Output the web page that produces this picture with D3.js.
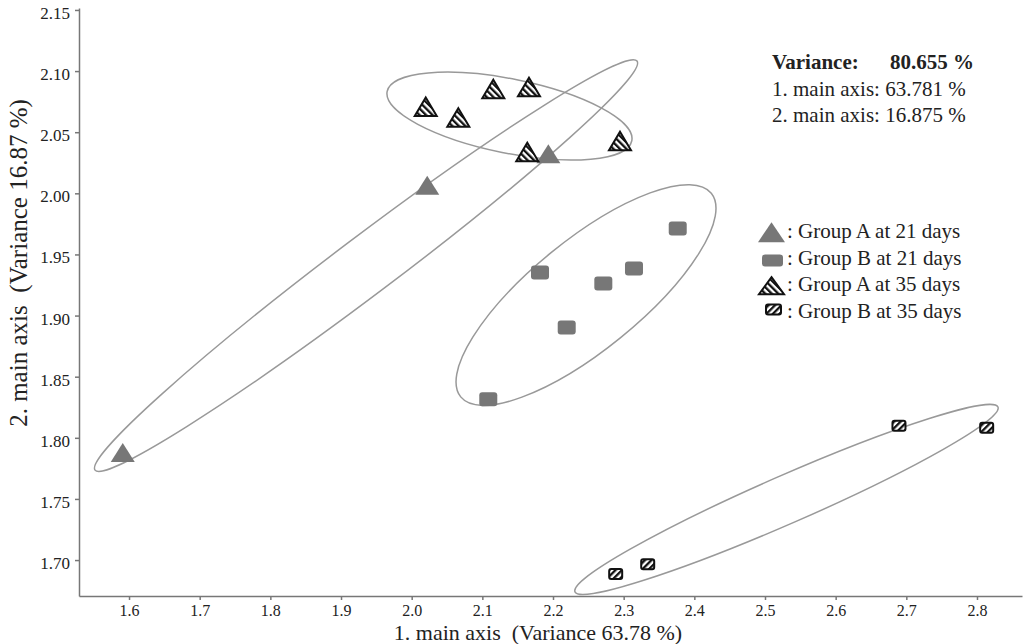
<!DOCTYPE html>
<html>
<head>
<meta charset="utf-8">
<script src="https://cdn.jsdelivr.net/npm/d3@7"></script>
<style>
	body { margin: 0; background: #fff; }
	text { font-family: "Liberation Serif", "DejaVu Serif", serif; fill: #222; }
</style>
</head>
<body>
<div id="chart"></div>
<script>
// score plot, two main axes
var groupNames = ["Group A at 21 days", "Group B at 21 days", "Group A at 35 days", "Group B at 35 days"];

var groupA21 = [[1.5911, 1.7854], [2.022, 2.004], [2.1934, 2.0297]];
var groupB21 = [[2.1816, 1.9353], [2.2712, 1.9263], [2.3146, 1.9386], [2.2194, 1.8903], [2.3765, 1.9713], [2.1084, 1.8315]];
var groupA35 = [[2.0199, 2.0683], [2.0660, 2.0595], [2.1155, 2.0828], [2.1660, 2.0845], [2.1636, 2.0313], [2.2948, 2.0403]];
var groupB35 = [[2.2887, 1.6885], [2.3340, 1.6965], [2.6896, 1.8099], [2.8137, 1.8082]];

// ellipse per group: centre, end of the long axis, short/long ratio
var ellCentre = [[1.9354, 1.9409], [2.2467, 1.9168], [2.1384, 2.0632], [2.5304, 1.7496]];
var ellTip = [[2.3189, 2.1082], [2.4240, 2.0001], [2.3115, 2.0430], [2.8297, 1.8252]];
var ellRatio = [0.0854, 0.34, 0.297, 0.104];

var xTicks = [1.6, 1.7, 1.8, 1.9, 2.0, 2.1, 2.2, 2.3, 2.4, 2.5, 2.6, 2.7, 2.8];
var yTicks = [1.70, 1.75, 1.80, 1.85, 1.90, 1.95, 2.00, 2.05, 2.10, 2.15];

var varianceLines = ["1. main axis: 63.781 %", "2. main axis: 16.875 %"];

var W = 1024, H = 644;
var mLeft = 79, mRight = 1022, mTop = 8, mBottom = 596;

var svg = d3.select("#chart").append("svg")
	.attr("width", W)
	.attr("height", H);

var x = d3.scaleLinear().domain([1.5292, 2.8637]).range([mLeft, mRight]);
var y = d3.scaleLinear().domain([1.6706, 2.1516]).range([mBottom, mTop]);

var defs = svg.append("defs");
function hatch(id, angle) {
	var p = defs.append("pattern")
		.attr("id", id)
		.attr("patternUnits", "userSpaceOnUse")
		.attr("width", 4.6)
		.attr("height", 4.6)
		.attr("patternTransform", "rotate(" + angle + ")");
	p.append("rect").attr("width", 4.6).attr("height", 4.6).attr("fill", "#fff");
	p.append("rect").attr("width", 2.3).attr("height", 4.6).attr("fill", "#111");
}
hatch("hatchT", -45);
hatch("hatchS", 45);

function triPath(w, h) {
	return "M0," + (-2 * h / 3) + "L" + (w / 2) + "," + (h / 3) + "L" + (-w / 2) + "," + (h / 3) + "Z";
}

// axes
var xAxis = svg.append("g")
	.attr("transform", "translate(0," + mBottom + ")")
	.call(d3.axisBottom(x).tickValues(xTicks).tickFormat(d3.format(".1f")).tickSize(4).tickSizeOuter(0).tickPadding(5));
var yAxis = svg.append("g")
	.attr("transform", "translate(" + mLeft + ",0)")
	.call(d3.axisLeft(y).tickValues(yTicks).tickFormat(d3.format(".2f")).tickSize(4).tickSizeOuter(0).tickPadding(5));
svg.selectAll(".domain, .tick line").attr("stroke", "#777").attr("stroke-width", 1.5);
xAxis.selectAll("text").attr("font-size", 16).attr("font-family", "Liberation Serif").attr("fill", "#333");
yAxis.selectAll("text").attr("font-size", 17).attr("font-family", "Liberation Serif").attr("fill", "#333").attr("dy", "0.5em");

svg.append("text")
	.attr("x", 538)
	.attr("y", 640)
	.attr("text-anchor", "middle")
	.attr("font-size", 22)
	.style("white-space", "pre")
	.text("1. main axis  (Variance 63.78 %)");
svg.append("text")
	.attr("transform", "translate(27,263) rotate(-90)")
	.attr("text-anchor", "middle")
	.attr("font-size", 25)
	.style("white-space", "pre")
	.text("2. main axis  (Variance 16.87 %)");

// ellipses
var ells = svg.selectAll("ellipse.grp").data(ellCentre)
	.enter().append("ellipse")
	.attr("class", "grp")
	.attr("fill", "none")
	.attr("stroke", "#999")
	.attr("stroke-width", 1.5)
	.each(function(d, i) {
		var cx = x(d[0]), cy = y(d[1]);
		var tx = x(ellTip[i][0]), ty = y(ellTip[i][1]);
		var a = Math.sqrt((tx - cx) * (tx - cx) + (ty - cy) * (ty - cy));
		var ang = Math.atan2(ty - cy, tx - cx) * 180 / Math.PI;
		d3.select(this)
			.attr("rx", a)
			.attr("ry", a * ellRatio[i])
			.attr("transform", "translate(" + cx + "," + cy + ") rotate(" + ang + ")");
	});

// points
svg.selectAll("path.a21").data(groupA21)
	.enter().append("path")
	.attr("class", "a21")
	.attr("d", triPath(24, 19))
	.attr("fill", "#777")
	.attr("transform", function(d) { return "translate(" + x(d[0]) + "," + y(d[1]) + ")"; });

svg.selectAll("rect.b21").data(groupB21)
	.enter().append("rect")
	.attr("class", "b21")
	.attr("x", function(d) { return x(d[0]) - 9; })
	.attr("y", function(d) { return y(d[1]) - 7; })
	.attr("width", 18)
	.attr("height", 14)
	.attr("rx", 3)
	.attr("fill", "#777");

svg.selectAll("path.a35").data(groupA35)
	.enter().append("path")
	.attr("class", "a35")
	.attr("d", triPath(22, 18.5))
	.attr("fill", "url(#hatchT)")
	.attr("stroke", "#111")
	.attr("stroke-width", 2)
	.attr("transform", function(d) { return "translate(" + x(d[0]) + "," + y(d[1]) + ")"; });

svg.selectAll("rect.b35").data(groupB35)
	.enter().append("rect")
	.attr("class", "b35")
	.attr("x", function(d) { return x(d[0]) - 6.5; })
	.attr("y", function(d) { return y(d[1]) - 5; })
	.attr("width", 13)
	.attr("height", 10)
	.attr("rx", 2)
	.attr("fill", "url(#hatchS)")
	.attr("stroke", "#111")
	.attr("stroke-width", 2);

// variance note
var note = svg.append("g").attr("font-size", 21);
note.append("text").attr("x", 772).attr("y", 69).attr("font-weight", "bold").text("Variance:");
note.append("text").attr("x", 890).attr("y", 69).attr("font-weight", "bold").text("80.655 %");
note.selectAll("text.vl").data(varianceLines)
	.enter().append("text")
	.attr("class", "vl")
	.attr("x", 772)
	.attr("y", function(d, i) { return 96 + i * 26; })
	.style("white-space", "pre")
	.text(function(d) { return d; });

// legend
var leg = svg.selectAll("g.leg").data(groupNames)
	.enter().append("g")
	.attr("class", "leg")
	.attr("transform", function(d, i) { return "translate(0," + (238 + i * 26.5) + ")"; });
leg.append("text")
	.attr("x", 787)
	.attr("font-size", 21)
	.style("white-space", "pre")
	.text(function(d) { return ": " + d; });
leg.each(function(d, i) {
	var g = d3.select(this);
	if (i == 0) {
		g.append("path").attr("d", triPath(27, 20)).attr("fill", "#777")
			.attr("transform", "translate(771.5,-2.5)");
	} else if (i == 1) {
		g.append("rect").attr("x", 762).attr("y", -10).attr("width", 21).attr("height", 12).attr("rx", 3).attr("fill", "#777");
	} else if (i == 2) {
		g.append("path").attr("d", triPath(25, 17)).attr("fill", "url(#hatchT)")
			.attr("stroke", "#111").attr("stroke-width", 2)
			.attr("transform", "translate(771.5,-2.5)");
	} else {
		g.append("rect").attr("x", 766).attr("y", -13).attr("width", 15).attr("height", 10).attr("rx", 2)
			.attr("fill", "url(#hatchS)").attr("stroke", "#111").attr("stroke-width", 2);
	}
});
</script>
</body>
</html>
